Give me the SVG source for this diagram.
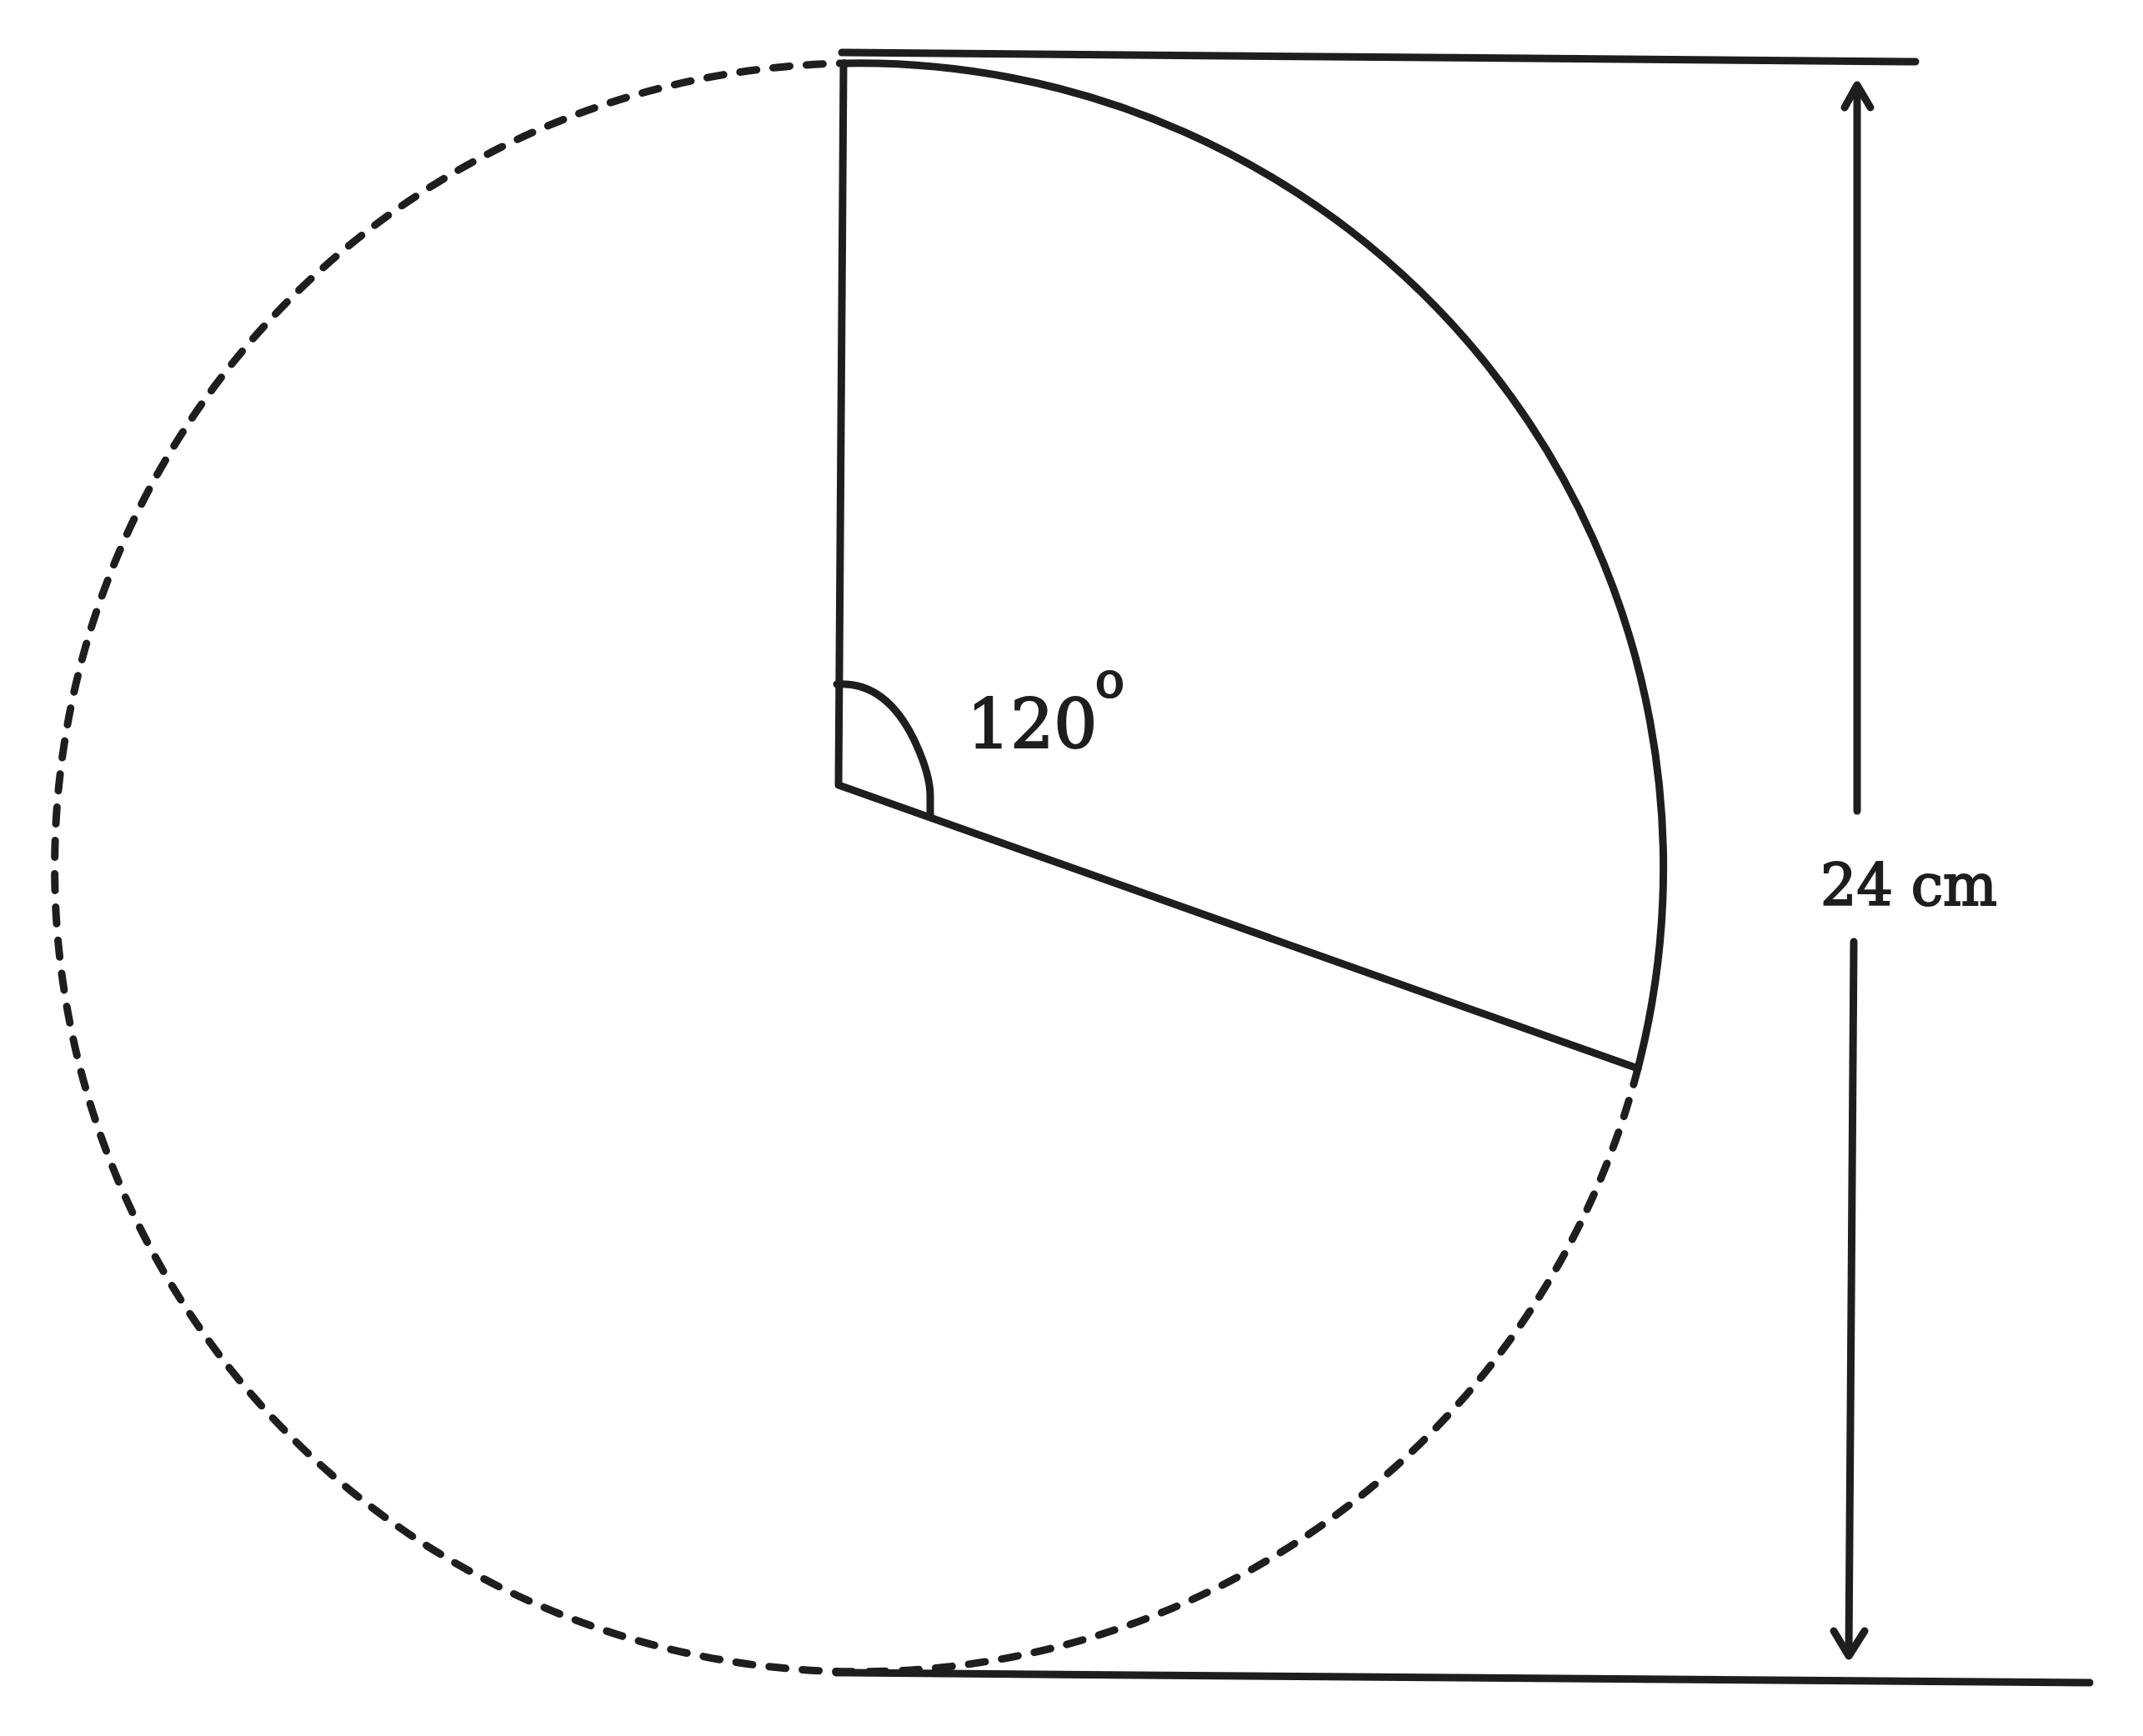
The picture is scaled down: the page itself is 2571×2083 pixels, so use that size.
<svg xmlns="http://www.w3.org/2000/svg" width="2571" height="2083" viewBox="0 0 2571 2083">
<style>
.s{fill:none;stroke:#1e1e1e;stroke-width:9;stroke-linecap:round;stroke-linejoin:round}
.d{fill:none;stroke:#1e1e1e;stroke-width:9;stroke-linecap:round;stroke-dasharray:20 20}
.t{font-family:"DejaVu Serif","Liberation Serif",serif;fill:#1e1e1e;stroke:#1e1e1e;stroke-width:2.2}
</style>
<rect width="2571" height="2083" fill="#ffffff"/>
<g id="circle-dashed">
<path class="d" d="M1965 1282 A965 965 0 1 1 1013 76"/>
</g>
<g id="sector">
<path class="s" d="M1013 76 A965 965 0 0 1 1965 1282"/>
<path class="s" d="M1012 76 L1006 942 L1965 1282"/>
<path class="s" d="M1004 821 C1050 818 1080 850 1100 895 C1112 922 1116 940 1116 955 L1116 978"/>
</g>
<g id="connectors">
<path class="s" d="M1010 63 L2298 74"/>
<path class="s" d="M1003 2007 L2507 2019"/>
<path class="s" d="M2228 104 L2228 973"/>
<path class="s" d="M2213 129 L2228 102 L2244 129"/>
<path class="s" d="M2224 1130 L2218 1985"/>
<path class="s" d="M2200 1957 L2218 1987 L2237 1957"/>
</g>
<g id="labels">
<text class="t" x="1160" y="898" font-size="82">120</text>
<text class="t" x="1314" y="836" font-size="58">o</text>
<text class="t" x="2184" y="1086" font-size="70" textLength="212" lengthAdjust="spacingAndGlyphs">24 cm</text>
</g>
</svg>
